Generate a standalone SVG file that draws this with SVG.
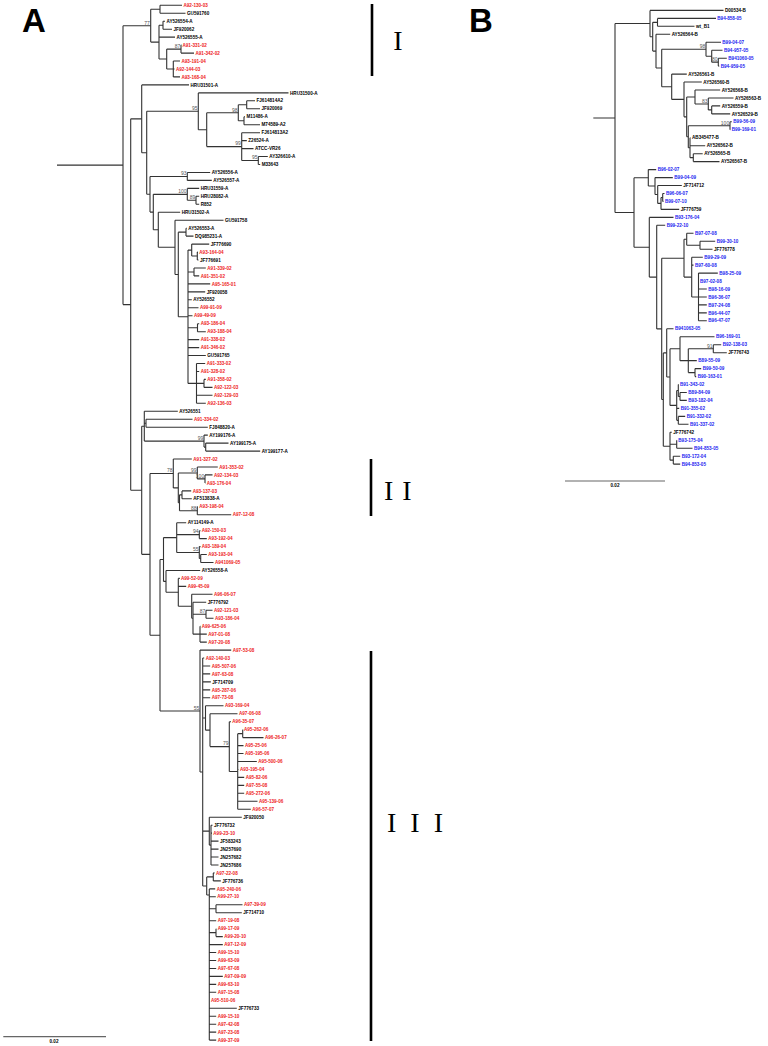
<svg xmlns="http://www.w3.org/2000/svg" width="768" height="1046" viewBox="0 0 768 1046">
<style>
.ln{fill:none;stroke:#333;stroke-width:1.1}
.t{font-family:"Liberation Sans",Arial,sans-serif;font-weight:bold;font-size:4.6px}
.k{fill:#000}.r{fill:#ee1c1c}.bl{fill:#1c1cf0}
.bs{font-family:"Liberation Sans",Arial,sans-serif;font-size:5px;fill:#555;text-anchor:end}
.big{font-family:"Liberation Sans",Arial,sans-serif;font-weight:bold;font-size:33px;fill:#000}
.rom{font-family:"Liberation Serif","Times New Roman",serif;font-size:28px;fill:#000}
.bar{stroke:#000;stroke-width:2.6}
</style>
<rect width="768" height="1046" fill="#fff"/>
<g id="connectors">
<path class="ln" d="M57 165.1H123 M123 25.7V304.6 M123 25.7H150.7 M123 304.6H130.7"/>
<path class="ln" d="M150.7 9.3V42.1 M150.7 9.3H160 M150.7 42.1H159"/>
<path class="ln" d="M160 5.3V13.3 M160 5.3H182 M160 13.3H185.5"/>
<path class="ln" d="M159 25.2V59.05 M159 25.2H163 M159 37.1H175 M159 59.05H166.7"/>
<path class="ln" d="M163 21.2V29.2 M163 21.2H165 M163 29.2H172"/>
<path class="ln" d="M166.7 49.1V69 M166.7 49.1H181 M166.7 69H173.3"/>
<path class="ln" d="M181 45.1V53.1 M181 45.1H181.5 M181 53.1H194"/>
<path class="ln" d="M173.3 61V76.9 M173.3 61H180 M173.3 69H174.5 M173.3 76.9H180"/>
<path class="ln" d="M130.7 118.85V490.3 M130.7 118.85H141.7 M130.7 490.3H141.7"/>
<path class="ln" d="M141.7 84.9V152.8 M141.7 84.9H189 M141.7 152.8H146.7"/>
<path class="ln" d="M146.7 111.3V194.3 M146.7 111.3H198.3 M146.7 194.3H150"/>
<path class="ln" d="M198.3 92.9V129.7 M198.3 92.9H288.5 M198.3 129.7H206.7"/>
<path class="ln" d="M206.7 112.75V146.6 M206.7 112.75H238.3 M206.7 146.6H241.7"/>
<path class="ln" d="M238.3 104.8V120.7 M238.3 104.8H246.7 M238.3 120.7H244"/>
<path class="ln" d="M246.7 100.8V108.8 M246.7 100.8H255 M246.7 108.8H260"/>
<path class="ln" d="M244 116.7V124.7 M244 116.7H245 M244 124.7H260"/>
<path class="ln" d="M241.7 132.7V160.5 M241.7 132.7H260 M241.7 140.6H246.8 M241.7 148.6H253.5 M241.7 160.5H258.3"/>
<path class="ln" d="M258.3 156.5V164.5 M258.3 156.5H267.8 M258.3 164.5H260.2"/>
<path class="ln" d="M150 176.45V212.1 M150 176.45H187.3 M150 212.1H153.3"/>
<path class="ln" d="M187.3 172.5V180.4 M187.3 172.5H210.2 M187.3 180.4H211.8"/>
<path class="ln" d="M153.3 194.35V229.8 M153.3 194.35H187.3 M153.3 229.8H158.3"/>
<path class="ln" d="M187.3 188.4V200.3 M187.3 188.4H199.2 M187.3 200.3H196"/>
<path class="ln" d="M196 196.3V204.3 M196 196.3H199.2 M196 204.3H199.2"/>
<path class="ln" d="M158.3 212.3V247.3 M158.3 212.3H180.2 M158.3 247.3H175"/>
<path class="ln" d="M175 220.2V274.45 M175 220.2H223.5 M175 274.45H178.3"/>
<path class="ln" d="M178.3 232.15V316.75 M178.3 232.15H186 M178.3 316.75H188"/>
<path class="ln" d="M186 228.2V236.1 M186 228.2H186.8 M186 236.1H193.5"/>
<path class="ln" d="M188 250.1V383.4 M188 250.1H191.7 M188 271.95H194 M188 283.9H210.2 M188 291.9H205.2 M188 299.8H191.8 M188 307.8H198.5 M188 315.7H192.5 M188 327.7H197.5 M188 339.6H199.2 M188 347.6H199.2 M188 355.5H205.8 M188 383.4H196.5"/>
<path class="ln" d="M191.7 244.1V256.05 M191.7 244.1H209.2 M191.7 256.05H197.3"/>
<path class="ln" d="M197.3 252.1V260 M197.3 252.1H198 M197.3 260H198.5"/>
<path class="ln" d="M194 268V275.9 M194 268H205.8 M194 275.9H199.2"/>
<path class="ln" d="M197.5 323.7V331.7 M197.5 323.7H199.2 M197.5 331.7H205.8"/>
<path class="ln" d="M196.5 363.5V403.3 M196.5 363.5H205.2 M196.5 371.5H199.2 M196.5 383.4H204 M196.5 395.3H212.5 M196.5 403.3H205.8"/>
<path class="ln" d="M204 379.4V387.4 M204 379.4H205.8 M204 387.4H212.5"/>
<path class="ln" d="M141.7 426.2V554.35 M141.7 426.2H144.3 M141.7 554.35H150"/>
<path class="ln" d="M144.3 411.3V441.1 M144.3 411.3H177.8 M144.3 423.2H146 M144.3 441.1H204"/>
<path class="ln" d="M146 419.2V427.2 M146 419.2H192.5 M146 427.2H207.8"/>
<path class="ln" d="M204 435.1V447.1 M204 435.1H207.8 M204 447.1H205.7"/>
<path class="ln" d="M205.7 443.1V451.1 M205.7 443.1H228.5 M205.7 451.1H260.2"/>
<path class="ln" d="M150 473.45V635.25 M150 473.45H173.3 M150 635.25H160"/>
<path class="ln" d="M173.3 459V487.9 M173.3 459H191.8 M173.3 487.9H178.3"/>
<path class="ln" d="M178.3 472.95V502.8 M178.3 472.95H197.3 M178.3 502.8H179.5"/>
<path class="ln" d="M197.3 467V478.9 M197.3 467H217.8 M197.3 478.9H205"/>
<path class="ln" d="M205 474.9V482.9 M205 474.9H212.5 M205 482.9H205.5"/>
<path class="ln" d="M179.5 494.85V510.75 M179.5 494.85H182 M179.5 510.75H197.3"/>
<path class="ln" d="M182 490.9V498.8 M182 490.9H191.2 M182 498.8H191.8"/>
<path class="ln" d="M197.3 506.8V514.7 M197.3 506.8H198 M197.3 514.7H231.2"/>
<path class="ln" d="M160 559.5V711 M160 559.5H163.5 M160 711H200"/>
<path class="ln" d="M163.5 537.6V581.4 M163.5 537.6H176.7 M163.5 581.4H166"/>
<path class="ln" d="M176.7 522.7V552.55 M176.7 522.7H186.2 M176.7 534.65H199.3 M176.7 552.55H199.3"/>
<path class="ln" d="M199.3 530.7V538.6 M199.3 530.7H200.5 M199.3 538.6H206.8"/>
<path class="ln" d="M199.3 546.6V558.5 M199.3 546.6H200.5 M199.3 558.5H200.7"/>
<path class="ln" d="M200.7 554.5V562.5 M200.7 554.5H206.8 M200.7 562.5H213.5"/>
<path class="ln" d="M166 570.5V592.3 M166 570.5H200.2 M166 592.3H178.3"/>
<path class="ln" d="M178.3 578.4V606.25 M178.3 578.4H179.8 M178.3 586.4H186.2 M178.3 606.25H191.7"/>
<path class="ln" d="M191.7 594.3V618.2 M191.7 594.3H212.5 M191.7 618.2H193"/>
<path class="ln" d="M193 602.3V634.15 M193 602.3H206.2 M193 614.25H206 M193 634.15H200"/>
<path class="ln" d="M206 610.3V618.2 M206 610.3H212.5 M206 618.2H213.5"/>
<path class="ln" d="M200 626.2V642.1 M200 626.2H200.5 M200 634.1H206.8 M200 642.1H206.8"/>
<path class="ln" d="M200 650.1V772 M200 650.1H231.2 M200 772H202.7"/>
<path class="ln" d="M202.7 658V886 M202.7 658H204.2 M202.7 666H210.2 M202.7 673.9H210.2 M202.7 681.9H210.8 M202.7 689.9H210.2 M202.7 697.8H210.2 M202.7 717.95H205.5 M202.7 831.15H209.3 M202.7 886H206.7"/>
<path class="ln" d="M205.5 705.8V730.15 M205.5 705.8H223.5 M205.5 730.15H210"/>
<path class="ln" d="M210 713.7V746.6 M210 713.7H237.5 M210 746.6H229.3"/>
<path class="ln" d="M229.3 721.7V771.5 M229.3 721.7H231 M229.3 771.5H237.7"/>
<path class="ln" d="M237.7 733.65V809.3 M237.7 733.65H242.7 M237.7 745.6H243.5 M237.7 753.5H243.5 M237.7 761.5H256.8 M237.7 769.5H238.5 M237.7 777.4H244.2 M237.7 785.4H244.2 M237.7 793.3H244.2 M237.7 801.3H257.5 M237.7 809.3H250.8"/>
<path class="ln" d="M242.7 729.7V737.6 M242.7 729.7H243.2 M242.7 737.6H263.5"/>
<path class="ln" d="M209.3 817.2V845.1 M209.3 817.2H241.8 M209.3 845.1H211"/>
<path class="ln" d="M211 825.2V865 M211 825.2H212.5 M211 833.1H212 M211 841.1H218.5 M211 849.1H218.5 M211 857H218.5 M211 865H218.5"/>
<path class="ln" d="M206.7 876.9V895 M206.7 876.9H213.3 M206.7 895H209.3"/>
<path class="ln" d="M213.3 872.9V880.9 M213.3 872.9H214.5 M213.3 880.9H220.8"/>
<path class="ln" d="M209.3 888.9V1040.1 M209.3 888.9H215.2 M209.3 896.8H215.8 M209.3 908.75H216 M209.3 920.7H216.2 M209.3 932.65H216 M209.3 944.6H222.8 M209.3 952.5H216.2 M209.3 960.5H216.2 M209.3 968.5H216.2 M209.3 976.4H222.8 M209.3 984.4H216.2 M209.3 992.3H216.2 M209.3 1000.3H209.8 M209.3 1008.3H236.8 M209.3 1016.2H216.2 M209.3 1024.2H216.2 M209.3 1032.1H216.2 M209.3 1040.1H216.2"/>
<path class="ln" d="M216 904.8V912.7 M216 904.8H242.5 M216 912.7H241.8"/>
<path class="ln" d="M216 928.7V936.6 M216 928.7H216.2 M216 936.6H222.8"/>
<path class="ln" d="M593.3 118H615 M615 23.55V212.5 M615 23.55H650 M615 212.5H634"/>
<path class="ln" d="M650 10.4V36.7 M650 10.4H723.5 M650 36.7H652.7"/>
<path class="ln" d="M652.7 22.35V51.1 M652.7 22.35H657.5 M652.7 51.1H656"/>
<path class="ln" d="M657.5 18.4V26.3 M657.5 18.4H716 M657.5 26.3H694.5"/>
<path class="ln" d="M656 34.3V67.95 M656 34.3H670.2 M656 67.95H661.7"/>
<path class="ln" d="M661.7 49.2V86.75 M661.7 49.2H706 M661.7 86.75H671.7"/>
<path class="ln" d="M706 42.2V56.2 M706 42.2H721 M706 56.2H711.7"/>
<path class="ln" d="M711.7 50.2V62.15 M711.7 50.2H722.5 M711.7 62.15H718.3"/>
<path class="ln" d="M718.3 58.2V66.1 M718.3 58.2H726.8 M718.3 66.1H719.2"/>
<path class="ln" d="M671.7 74.1V99.4 M671.7 74.1H686.8 M671.7 99.4H684"/>
<path class="ln" d="M684 82V116.85 M684 82H701.8 M684 116.85H686.7"/>
<path class="ln" d="M686.7 96.95V136.75 M686.7 96.95H695 M686.7 136.75H688.3"/>
<path class="ln" d="M695 90V103.95 M695 90H720.2 M695 103.95H708.3"/>
<path class="ln" d="M708.3 98V109.9 M708.3 98H733.5 M708.3 109.9H711.7"/>
<path class="ln" d="M711.7 105.9V113.9 M711.7 105.9H720.2 M711.7 113.9H730.2"/>
<path class="ln" d="M688.3 125.8V147.7 M688.3 125.8H730 M688.3 147.7H690"/>
<path class="ln" d="M730 121.8V129.8 M730 121.8H731.8 M730 129.8H730.3"/>
<path class="ln" d="M690 137.8V157.65 M690 137.8H690.5 M690 145.7H705.2 M690 157.65H693.3"/>
<path class="ln" d="M693.3 153.7V161.6 M693.3 153.7H702.7 M693.3 161.6H719.5"/>
<path class="ln" d="M634 177.8V247.25 M634 177.8H648.3 M634 247.25H649.3"/>
<path class="ln" d="M648.3 169.6V186 M648.3 169.6H656.2 M648.3 186H655"/>
<path class="ln" d="M655 177.6V194.45 M655 177.6H672.8 M655 194.45H657.7"/>
<path class="ln" d="M657.7 185.5V203.4 M657.7 185.5H681.8 M657.7 203.4H661"/>
<path class="ln" d="M661 197.45V209.4 M661 197.45H662.7 M661 209.4H679.2"/>
<path class="ln" d="M662.7 193.5V201.4 M662.7 193.5H664.5 M662.7 201.4H663.5"/>
<path class="ln" d="M649.3 217.4V277.1 M649.3 217.4H673.5 M649.3 277.1H656.7"/>
<path class="ln" d="M656.7 225.3V328.9 M656.7 225.3H665.2 M656.7 328.9H661.7"/>
<path class="ln" d="M661.7 258.2V399.55 M661.7 258.2H684 M661.7 399.55H663.3"/>
<path class="ln" d="M684 239.25V277.1 M684 239.25H686.7 M684 277.1H691.7"/>
<path class="ln" d="M686.7 233.3V245.2 M686.7 233.3H693.5 M686.7 245.2H700"/>
<path class="ln" d="M700 241.2V249.2 M700 241.2H715.2 M700 249.2H712.5"/>
<path class="ln" d="M691.7 257.2V296.95 M691.7 257.2H702.8 M691.7 265.1H693.5 M691.7 296.95H698.5"/>
<path class="ln" d="M698.5 273.1V320.8 M698.5 273.1H717.8 M698.5 281H698.8 M698.5 289H706.8 M698.5 297H706.8 M698.5 304.9H706.8 M698.5 312.9H706.8 M698.5 320.8H706.8"/>
<path class="ln" d="M663.3 352.9V446.2 M663.3 352.9H666.7 M663.3 446.2H670"/>
<path class="ln" d="M666.7 328.8V377.05 M666.7 328.8H673.5 M666.7 377.05H670"/>
<path class="ln" d="M670 348.7V405.4 M670 348.7H680 M670 405.4H676.7"/>
<path class="ln" d="M680 336.8V360.65 M680 336.8H714.5 M680 360.65H688.3"/>
<path class="ln" d="M688.3 348.7V372.6 M688.3 348.7H713.3 M688.3 360.6H696.8 M688.3 372.6H695"/>
<path class="ln" d="M713.3 344.7V352.7 M713.3 344.7H721.2 M713.3 352.7H726.8"/>
<path class="ln" d="M695 368.6V376.6 M695 368.6H701.2 M695 376.6H696.2"/>
<path class="ln" d="M676.7 390.5V420.35 M676.7 390.5H678.3 M676.7 408.4H679.2 M676.7 420.35H678.3"/>
<path class="ln" d="M678.3 384.5V396.45 M678.3 384.5H678.8 M678.3 396.45H680"/>
<path class="ln" d="M680 392.5V400.4 M680 392.5H686.8 M680 400.4H686.8"/>
<path class="ln" d="M678.3 416.4V424.3 M678.3 416.4H685.2 M678.3 424.3H688.5"/>
<path class="ln" d="M670 432.3V460.15 M670 432.3H671.8 M670 444.2H676.7 M670 460.15H673.3"/>
<path class="ln" d="M676.7 440.2V448.2 M676.7 440.2H676.8 M676.7 448.2H692.5"/>
<path class="ln" d="M673.3 456.2V464.1 M673.3 456.2H680.2 M673.3 464.1H680.2"/>
</g>
<g id="scale-bars">
<path d="M3.3 1036.7H106" stroke="#666" stroke-width="1.2"/>
<text class="t k" x="54" y="1042.5" text-anchor="middle" font-size="3.6">0.02</text>
<path d="M565 481H665" stroke="#666" stroke-width="1.2"/>
<text class="t k" x="615" y="486.8" text-anchor="middle" font-size="3.6">0.02</text>
</g>
<g id="panel-labels">
<text class="big" x="22" y="32">A</text>
<text class="big" x="469" y="32">B</text>
</g>
<g id="clade-I"><path class="bar" d="M372 4V76"/><text class="rom" x="398" y="50" text-anchor="middle">I</text></g>
<g id="clade-II"><path class="bar" d="M371 459V516"/><text class="rom" x="384" y="500" letter-spacing="9">II</text></g>
<g id="clade-III"><path class="bar" d="M371 651V1041"/><text class="rom" x="387" y="832" letter-spacing="14">III</text></g>
<g id="bootstrap">
<text class="bs" x="149.9" y="24.5">77</text>
<text class="bs" x="180.2" y="47.9">87</text>
<text class="bs" x="197.5" y="110.1">95</text>
<text class="bs" x="237.5" y="111.5">98</text>
<text class="bs" x="240.9" y="145.4">99</text>
<text class="bs" x="257.5" y="159.3">95</text>
<text class="bs" x="186.5" y="175.2">93</text>
<text class="bs" x="186.5" y="193.1">100</text>
<text class="bs" x="195.2" y="199.1">89</text>
<text class="bs" x="203.2" y="439.9">99</text>
<text class="bs" x="172.5" y="472.2">78</text>
<text class="bs" x="196.5" y="471.7">99</text>
<text class="bs" x="204.2" y="477.7">100</text>
<text class="bs" x="196.5" y="509.5">88</text>
<text class="bs" x="198.5" y="533.4">94</text>
<text class="bs" x="198.5" y="551.3">55</text>
<text class="bs" x="205.2" y="613">87</text>
<text class="bs" x="199.2" y="709.8">55</text>
<text class="bs" x="228.5" y="745.4">79</text>
<text class="bs" x="705.2" y="48">98</text>
<text class="bs" x="717.5" y="61">80</text>
<text class="bs" x="707.5" y="102.8">83</text>
<text class="bs" x="729.2" y="124.6">100</text>
<text class="bs" x="712.5" y="347.5">91</text>
</g>
<g id="a0"><text class="t r" x="183.5" y="6.9">A92-130-03</text></g>
<g id="a1"><text class="t k" x="187" y="14.9">GU591760</text></g>
<g id="a2"><text class="t k" x="166.5" y="22.8">AY526554-A</text></g>
<g id="a3"><text class="t k" x="173.5" y="30.8">JF920062</text></g>
<g id="a4"><text class="t k" x="176.5" y="38.7">AY526555-A</text></g>
<g id="a5"><text class="t r" x="182.5" y="46.7">A91-331-02</text></g>
<g id="a6"><text class="t r" x="195.5" y="54.7">A91-342-02</text></g>
<g id="a7"><text class="t r" x="181.5" y="62.6">A93-191-04</text></g>
<g id="a8"><text class="t r" x="176" y="70.6">A92-144-03</text></g>
<g id="a9"><text class="t r" x="181.5" y="78.5">A93-168-04</text></g>
<g id="a10"><text class="t k" x="190.5" y="86.5">HRU31501-A</text></g>
<g id="a11"><text class="t k" x="290" y="94.5">HRU31500-A</text></g>
<g id="a12"><text class="t k" x="256.5" y="102.4">FJ614814A2</text></g>
<g id="a13"><text class="t k" x="261.5" y="110.4">JF920069</text></g>
<g id="a14"><text class="t k" x="246.5" y="118.3">M11486-A</text></g>
<g id="a15"><text class="t k" x="261.5" y="126.3">M74589-A2</text></g>
<g id="a16"><text class="t k" x="261.5" y="134.3">FJ614813A2</text></g>
<g id="a17"><text class="t k" x="248.3" y="142.2">Z26524-A</text></g>
<g id="a18"><text class="t k" x="255" y="150.2">ATCC-VR26</text></g>
<g id="a19"><text class="t k" x="269.3" y="158.1">AY326610-A</text></g>
<g id="a20"><text class="t k" x="261.7" y="166.1">M33643</text></g>
<g id="a21"><text class="t k" x="211.7" y="174.1">AY526556-A</text></g>
<g id="a22"><text class="t k" x="213.3" y="182">AY526557-A</text></g>
<g id="a23"><text class="t k" x="200.7" y="190">HRU31559-A</text></g>
<g id="a24"><text class="t k" x="200.7" y="197.9">HRU28082-A</text></g>
<g id="a25"><text class="t k" x="200.7" y="205.9">R852</text></g>
<g id="a26"><text class="t k" x="181.7" y="213.9">HRU31502-A</text></g>
<g id="a27"><text class="t k" x="225" y="221.8">GU591758</text></g>
<g id="a28"><text class="t k" x="188.3" y="229.8">AY526553-A</text></g>
<g id="a29"><text class="t k" x="195" y="237.7">DQ985231-A</text></g>
<g id="a30"><text class="t k" x="210.7" y="245.7">JF776690</text></g>
<g id="a31"><text class="t r" x="199.3" y="253.7">A93-164-04</text></g>
<g id="a32"><text class="t k" x="200" y="261.6">JF776691</text></g>
<g id="a33"><text class="t r" x="207.3" y="269.6">A91-339-02</text></g>
<g id="a34"><text class="t r" x="200.7" y="277.5">A91-351-02</text></g>
<g id="a35"><text class="t r" x="211.7" y="285.5">A95-165-01</text></g>
<g id="a36"><text class="t k" x="206.7" y="293.5">JF920058</text></g>
<g id="a37"><text class="t k" x="193.3" y="301.4">AY526552</text></g>
<g id="a38"><text class="t r" x="200" y="309.4">A99-91-09</text></g>
<g id="a39"><text class="t r" x="194" y="317.3">A99-49-09</text></g>
<g id="a40"><text class="t r" x="200.7" y="325.3">A93-186-04</text></g>
<g id="a41"><text class="t r" x="207.3" y="333.3">A93-188-04</text></g>
<g id="a42"><text class="t r" x="200.7" y="341.2">A91-338-02</text></g>
<g id="a43"><text class="t r" x="200.7" y="349.2">A91-346-02</text></g>
<g id="a44"><text class="t k" x="207.3" y="357.1">GU591765</text></g>
<g id="a45"><text class="t r" x="206.7" y="365.1">A91-333-02</text></g>
<g id="a46"><text class="t r" x="200.7" y="373.1">A91-328-02</text></g>
<g id="a47"><text class="t r" x="207.3" y="381">A91-358-02</text></g>
<g id="a48"><text class="t r" x="214" y="389">A92-122-03</text></g>
<g id="a49"><text class="t r" x="214" y="396.9">A92-129-03</text></g>
<g id="a50"><text class="t r" x="207.3" y="404.9">A92-136-03</text></g>
<g id="a51"><text class="t k" x="179.3" y="412.9">AY526551</text></g>
<g id="a52"><text class="t r" x="194" y="420.8">A91-334-02</text></g>
<g id="a53"><text class="t k" x="209.3" y="428.8">FJ848820-A</text></g>
<g id="a54"><text class="t k" x="209.3" y="436.7">AY199176-A</text></g>
<g id="a55"><text class="t k" x="230" y="444.7">AY199175-A</text></g>
<g id="a56"><text class="t k" x="261.7" y="452.7">AY199177-A</text></g>
<g id="a57"><text class="t r" x="193.3" y="460.6">A91-327-02</text></g>
<g id="a58"><text class="t r" x="219.3" y="468.6">A91-353-02</text></g>
<g id="a59"><text class="t r" x="214" y="476.5">A92-134-03</text></g>
<g id="a60"><text class="t r" x="206.7" y="484.5">A93-176-04</text></g>
<g id="a61"><text class="t r" x="192.7" y="492.5">A93-137-03</text></g>
<g id="a62"><text class="t k" x="193.3" y="500.4">AF513838-A</text></g>
<g id="a63"><text class="t r" x="199.3" y="508.4">A93-198-04</text></g>
<g id="a64"><text class="t r" x="232.7" y="516.3">A97-12-08</text></g>
<g id="a65"><text class="t k" x="187.7" y="524.3">AY114149-A</text></g>
<g id="a66"><text class="t r" x="201.7" y="532.3">A92-150-03</text></g>
<g id="a67"><text class="t r" x="208.3" y="540.2">A93-192-04</text></g>
<g id="a68"><text class="t r" x="201.7" y="548.2">A93-189-04</text></g>
<g id="a69"><text class="t r" x="208.3" y="556.1">A93-193-04</text></g>
<g id="a70"><text class="t r" x="215" y="564.1">A941069-05</text></g>
<g id="a71"><text class="t k" x="201.7" y="572.1">AY526558-A</text></g>
<g id="a72"><text class="t r" x="181" y="580">A99-52-09</text></g>
<g id="a73"><text class="t r" x="187.7" y="588">A99-45-09</text></g>
<g id="a74"><text class="t r" x="214" y="595.9">A96-06-07</text></g>
<g id="a75"><text class="t k" x="207.7" y="603.9">JF776792</text></g>
<g id="a76"><text class="t r" x="214" y="611.9">A92-121-03</text></g>
<g id="a77"><text class="t r" x="215" y="619.8">A93-186-04</text></g>
<g id="a78"><text class="t r" x="201.7" y="627.8">A99-625-06</text></g>
<g id="a79"><text class="t r" x="208.3" y="635.7">A97-01-08</text></g>
<g id="a80"><text class="t r" x="208.3" y="643.7">A97-20-08</text></g>
<g id="a81"><text class="t r" x="232.7" y="651.7">A97-53-08</text></g>
<g id="a82"><text class="t r" x="205.7" y="659.6">A92-140-03</text></g>
<g id="a83"><text class="t r" x="211.7" y="667.6">A95-507-06</text></g>
<g id="a84"><text class="t r" x="211.7" y="675.5">A97-63-08</text></g>
<g id="a85"><text class="t k" x="212.3" y="683.5">JF714709</text></g>
<g id="a86"><text class="t r" x="211.7" y="691.5">A95-287-06</text></g>
<g id="a87"><text class="t r" x="211.7" y="699.4">A97-73-08</text></g>
<g id="a88"><text class="t r" x="225" y="707.4">A93-169-04</text></g>
<g id="a89"><text class="t r" x="239" y="715.3">A97-06-08</text></g>
<g id="a90"><text class="t r" x="232.3" y="723.3">A96-35-07</text></g>
<g id="a91"><text class="t r" x="244" y="731.3">A95-262-06</text></g>
<g id="a92"><text class="t r" x="265" y="739.2">A96-26-07</text></g>
<g id="a93"><text class="t r" x="245" y="747.2">A95-25-06</text></g>
<g id="a94"><text class="t r" x="245" y="755.1">A95-195-06</text></g>
<g id="a95"><text class="t r" x="258.3" y="763.1">A95-500-06</text></g>
<g id="a96"><text class="t r" x="240" y="771.1">A93-195-04</text></g>
<g id="a97"><text class="t r" x="245.7" y="779">A95-82-06</text></g>
<g id="a98"><text class="t r" x="245.7" y="787">A97-55-08</text></g>
<g id="a99"><text class="t r" x="245.7" y="794.9">A95-272-06</text></g>
<g id="a100"><text class="t r" x="259" y="802.9">A95-139-06</text></g>
<g id="a101"><text class="t r" x="252.3" y="810.9">A96-57-07</text></g>
<g id="a102"><text class="t k" x="243.3" y="818.8">JF920050</text></g>
<g id="a103"><text class="t k" x="214" y="826.8">JF776732</text></g>
<g id="a104"><text class="t r" x="213.3" y="834.7">A99-23-10</text></g>
<g id="a105"><text class="t k" x="220" y="842.7">JF583243</text></g>
<g id="a106"><text class="t k" x="220" y="850.7">JN257690</text></g>
<g id="a107"><text class="t k" x="220" y="858.6">JN257682</text></g>
<g id="a108"><text class="t k" x="220" y="866.6">JN257686</text></g>
<g id="a109"><text class="t r" x="216" y="874.5">A97-22-08</text></g>
<g id="a110"><text class="t k" x="222.3" y="882.5">JF776736</text></g>
<g id="a111"><text class="t r" x="216.7" y="890.5">A95-240-06</text></g>
<g id="a112"><text class="t r" x="217.3" y="898.4">A99-27-10</text></g>
<g id="a113"><text class="t r" x="244" y="906.4">A97-39-09</text></g>
<g id="a114"><text class="t k" x="243.3" y="914.3">JF714710</text></g>
<g id="a115"><text class="t r" x="217.7" y="922.3">A97-19-08</text></g>
<g id="a116"><text class="t r" x="217.7" y="930.3">A99-17-09</text></g>
<g id="a117"><text class="t r" x="224.3" y="938.2">A99-20-10</text></g>
<g id="a118"><text class="t r" x="224.3" y="946.2">A97-12-09</text></g>
<g id="a119"><text class="t r" x="217.7" y="954.1">A99-15-10</text></g>
<g id="a120"><text class="t r" x="217.7" y="962.1">A99-63-09</text></g>
<g id="a121"><text class="t r" x="217.7" y="970.1">A97-67-08</text></g>
<g id="a122"><text class="t r" x="224.3" y="978">A97-09-09</text></g>
<g id="a123"><text class="t r" x="217.7" y="986">A99-63-10</text></g>
<g id="a124"><text class="t r" x="217.7" y="993.9">A97-15-08</text></g>
<g id="a125"><text class="t r" x="211" y="1001.9">A95-510-06</text></g>
<g id="a126"><text class="t k" x="238.3" y="1009.9">JF776733</text></g>
<g id="a127"><text class="t r" x="217.7" y="1017.8">A99-15-10</text></g>
<g id="a128"><text class="t r" x="217.7" y="1025.8">A97-42-08</text></g>
<g id="a129"><text class="t r" x="217.7" y="1033.7">A97-23-08</text></g>
<g id="a130"><text class="t r" x="217.7" y="1041.7">A99-37-09</text></g>
<g id="b0"><text class="t k" x="725" y="12">D00534-B</text></g>
<g id="b1"><text class="t bl" x="717.3" y="20">B94-858-05</text></g>
<g id="b2"><text class="t k" x="696" y="27.9">wt_B1</text></g>
<g id="b3"><text class="t k" x="671.7" y="35.9">AY526564-B</text></g>
<g id="b4"><text class="t bl" x="722.3" y="43.8">B99-04-07</text></g>
<g id="b5"><text class="t bl" x="724" y="51.8">B94-957-05</text></g>
<g id="b6"><text class="t bl" x="728.3" y="59.8">B941060-05</text></g>
<g id="b7"><text class="t bl" x="720.7" y="67.7">B94-959-05</text></g>
<g id="b8"><text class="t k" x="688.3" y="75.7">AY526561-B</text></g>
<g id="b9"><text class="t k" x="703.3" y="83.6">AY526560-B</text></g>
<g id="b10"><text class="t k" x="721.7" y="91.6">AY526568-B</text></g>
<g id="b11"><text class="t k" x="735" y="99.6">AY526563-B</text></g>
<g id="b12"><text class="t k" x="721.7" y="107.5">AY526559-B</text></g>
<g id="b13"><text class="t k" x="731.7" y="115.5">AY526529-B</text></g>
<g id="b14"><text class="t bl" x="733.3" y="123.4">B99-56-09</text></g>
<g id="b15"><text class="t bl" x="731.7" y="131.4">B99-169-01</text></g>
<g id="b16"><text class="t k" x="692" y="139.4">AB345477-B</text></g>
<g id="b17"><text class="t k" x="706.7" y="147.3">AY526562-B</text></g>
<g id="b18"><text class="t k" x="704.2" y="155.3">AY526565-B</text></g>
<g id="b19"><text class="t k" x="721" y="163.2">AY526567-B</text></g>
<g id="b20"><text class="t bl" x="657.7" y="171.2">B96-02-07</text></g>
<g id="b21"><text class="t bl" x="674.3" y="179.2">B99-04-09</text></g>
<g id="b22"><text class="t k" x="683.3" y="187.1">JF714712</text></g>
<g id="b23"><text class="t bl" x="666" y="195.1">B96-06-07</text></g>
<g id="b24"><text class="t bl" x="665" y="203">B99-07-10</text></g>
<g id="b25"><text class="t k" x="680.7" y="211">JF776759</text></g>
<g id="b26"><text class="t bl" x="675" y="219">B93-176-04</text></g>
<g id="b27"><text class="t bl" x="666.7" y="226.9">B99-22-10</text></g>
<g id="b28"><text class="t bl" x="695" y="234.9">B97-07-08</text></g>
<g id="b29"><text class="t bl" x="716.7" y="242.8">B99-30-10</text></g>
<g id="b30"><text class="t k" x="714" y="250.8">JF776778</text></g>
<g id="b31"><text class="t bl" x="704.3" y="258.8">B99-29-09</text></g>
<g id="b32"><text class="t bl" x="695" y="266.7">B97-60-08</text></g>
<g id="b33"><text class="t bl" x="719.3" y="274.7">B98-25-09</text></g>
<g id="b34"><text class="t bl" x="700" y="282.6">B97-02-08</text></g>
<g id="b35"><text class="t bl" x="708.3" y="290.6">B98-16-09</text></g>
<g id="b36"><text class="t bl" x="708.3" y="298.6">B96-36-07</text></g>
<g id="b37"><text class="t bl" x="708.3" y="306.5">B97-24-08</text></g>
<g id="b38"><text class="t bl" x="708.3" y="314.5">B96-44-07</text></g>
<g id="b39"><text class="t bl" x="708.3" y="322.4">B96-47-07</text></g>
<g id="b40"><text class="t bl" x="675" y="330.4">B941063-05</text></g>
<g id="b41"><text class="t bl" x="716" y="338.4">B96-169-01</text></g>
<g id="b42"><text class="t bl" x="722.7" y="346.3">B92-138-03</text></g>
<g id="b43"><text class="t k" x="728.3" y="354.3">JF776743</text></g>
<g id="b44"><text class="t bl" x="698.3" y="362.2">B89-55-09</text></g>
<g id="b45"><text class="t bl" x="702.7" y="370.2">B99-50-09</text></g>
<g id="b46"><text class="t bl" x="697.7" y="378.2">B90-163-01</text></g>
<g id="b47"><text class="t bl" x="680" y="386.1">B91-343-02</text></g>
<g id="b48"><text class="t bl" x="688.3" y="394.1">B89-84-09</text></g>
<g id="b49"><text class="t bl" x="688.3" y="402">B93-182-04</text></g>
<g id="b50"><text class="t bl" x="680.7" y="410">B91-355-02</text></g>
<g id="b51"><text class="t bl" x="686.7" y="418">B91-332-02</text></g>
<g id="b52"><text class="t bl" x="690" y="425.9">B91-337-02</text></g>
<g id="b53"><text class="t k" x="673.3" y="433.9">JF776742</text></g>
<g id="b54"><text class="t bl" x="678.3" y="441.8">B93-175-04</text></g>
<g id="b55"><text class="t bl" x="694" y="449.8">B94-853-05</text></g>
<g id="b56"><text class="t bl" x="681.7" y="457.8">B93-172-04</text></g>
<g id="b57"><text class="t bl" x="681.7" y="465.7">B94-853-05</text></g>
</svg>
